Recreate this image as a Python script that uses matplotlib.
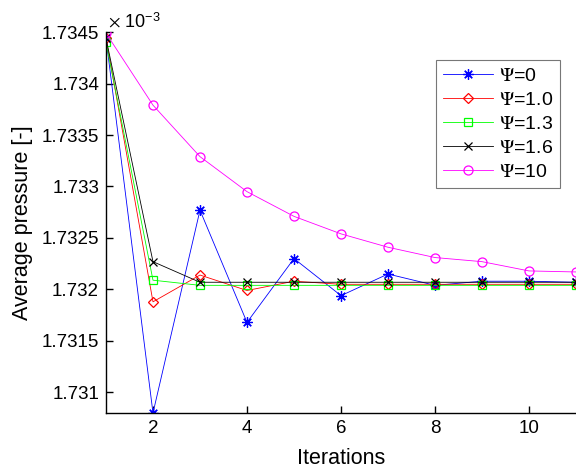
import matplotlib
matplotlib.use("Agg")
import matplotlib.pyplot as plt

plt.rcParams['font.family'] = ['Liberation Sans', 'DejaVu Sans']
plt.rcParams['mathtext.fontset'] = 'stix'

iterations = [1, 2, 3, 4, 5, 6, 7, 8, 9, 10, 11]

# average pressure, in units of 1e-3
psi_0 = [1.73444, 1.73080, 1.73277, 1.73168, 1.73230, 1.73194, 1.73215, 1.73204, 1.73208, 1.73208, 1.73207]
psi_1_0 = [1.73444, 1.73188, 1.73214, 1.73199, 1.73208, 1.73205, 1.73205, 1.73205, 1.73205, 1.73205, 1.73205]
psi_1_3 = [1.73440, 1.73209, 1.73204, 1.73204, 1.73204, 1.73204, 1.73204, 1.73204, 1.73204, 1.73204, 1.73204]
psi_1_6 = [1.73444, 1.73227, 1.73207, 1.73207, 1.73207, 1.73207, 1.73207, 1.73207, 1.73207, 1.73207, 1.73207]
psi_10 = [1.73449, 1.73379, 1.73329, 1.73295, 1.73271, 1.73254, 1.73241, 1.73231, 1.73227, 1.73218, 1.73217]

asterisk = (8, 2, 0)
series = [
    (psi_0, r'$\Psi$=0', '#0000ff', asterisk, 7.5),
    (psi_1_0, r'$\Psi$=1.0', '#ff0000', 'D', 5.5),
    (psi_1_3, r'$\Psi$=1.3', '#00ff00', 's', 5.5),
    (psi_1_6, r'$\Psi$=1.6', '#000000', 'x', 6),
    (psi_10, r'$\Psi$=10', '#ff00ff', 'o', 6.5),
]

fig = plt.figure(figsize=(5.76, 4.68), dpi=100)
ax = fig.add_axes([0.184, 0.1175, 0.816, 0.814])

for vals, label, color, marker, ms in series:
    ax.plot(iterations, vals, color=color, marker=marker, markersize=ms,
            markerfacecolor='none', markeredgecolor=color, markeredgewidth=0.9,
            linewidth=0.6, label=label)

ax.set_xlim(1, 11)
ax.set_ylim(1.7308, 1.7345)
ax.set_xticks([2, 4, 6, 8, 10])
ax.set_yticks([1.731, 1.7315, 1.732, 1.7325, 1.733, 1.7335, 1.734, 1.7345])
ax.set_yticklabels(['1.731', '1.7315', '1.732', '1.7325', '1.733', '1.7335', '1.734', '1.7345'])
ax.tick_params(direction='in', labelsize=13.5, length=5, width=1, pad=5)
for side in ('top', 'right'):
    ax.spines[side].set_visible(False)
ax.spines['left'].set_linewidth(1)
ax.spines['bottom'].set_linewidth(1)

ax.set_xlabel('Iterations', fontsize=15.5, labelpad=8)
ax.set_ylabel('Average pressure [-]', fontsize=15.5, labelpad=6)
ax.text(0.005, 1.0, r'$\times$ 10$^{\mathregular{-3}}$', transform=ax.transAxes,
        fontsize=13, ha='left', va='bottom')

leg = ax.legend(loc='upper right', bbox_to_anchor=(0.966, 0.926), fontsize=14,
                frameon=True, fancybox=False, edgecolor='#555555',
                handlelength=2.6, handletextpad=0.3, borderpad=0.35,
                labelspacing=0.33, borderaxespad=0)
leg.get_frame().set_linewidth(0.8)

fig.savefig('out.png', dpi=100)
